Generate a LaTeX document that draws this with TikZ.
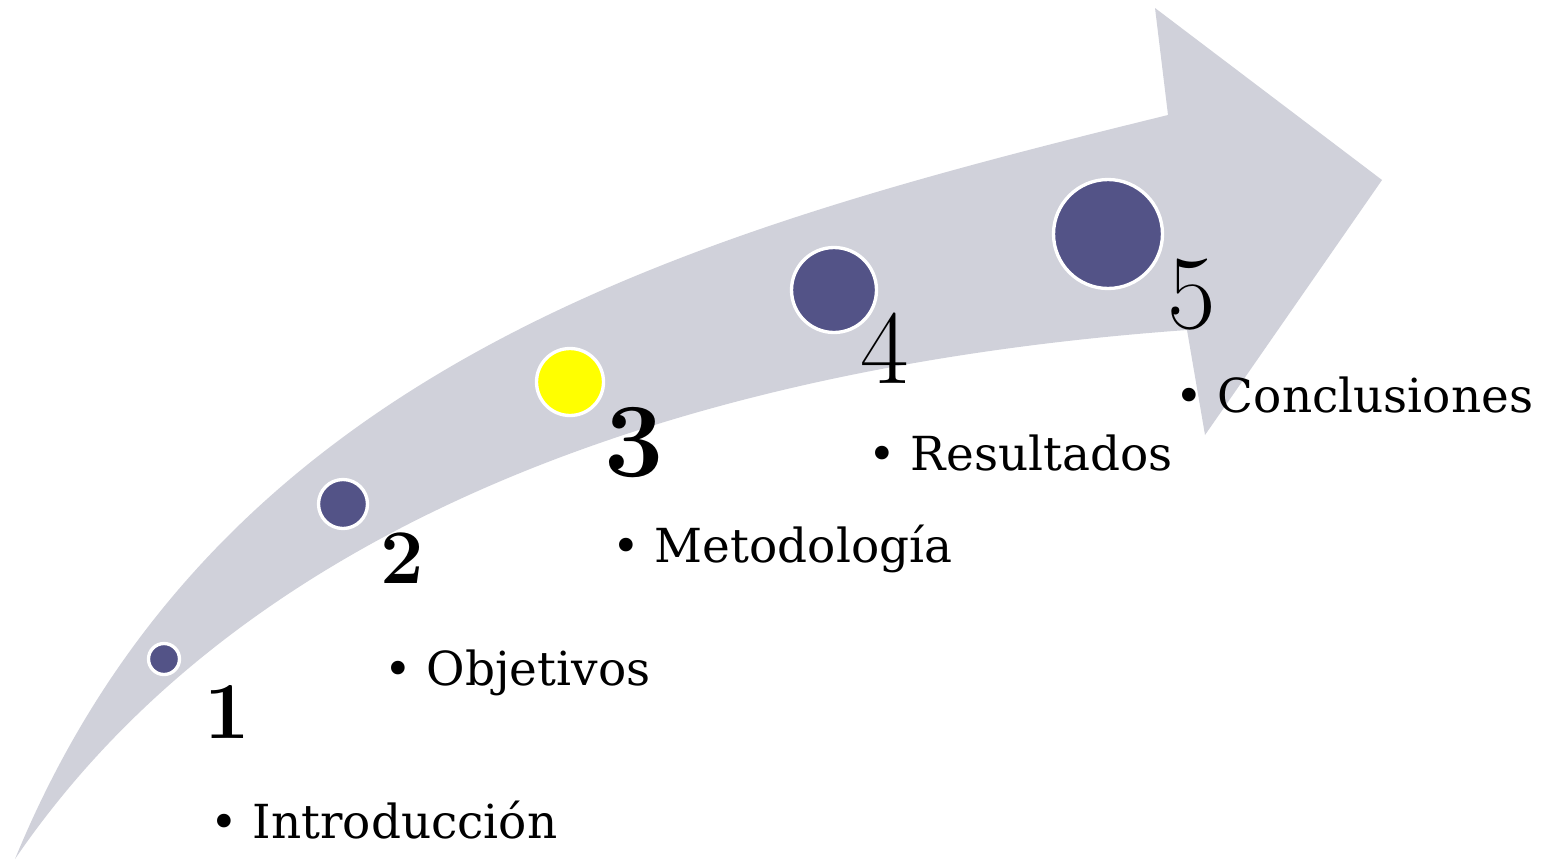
\documentclass[tikz,border=0pt]{standalone}
\usepackage{fontspec}
\newfontfamily\topicfont{DejaVu Serif}
\usetikzlibrary{positioning}
\definecolor{arrowgray}{HTML}{D0D1DA}
\definecolor{dotblue}{HTML}{535387}
\definecolor{dotyellow}{HTML}{FFFF00}

\begin{document}
\begin{tikzpicture}[x=0.02cm, y=-0.02cm]
  % Define styles
  \tikzstyle{dot} = [circle, draw=white, line width=1.9pt, fill=dotblue, inner sep=0pt]
  \tikzstyle{num} = [anchor=base west, inner sep=0pt]
  \tikzstyle{topic} = [anchor=base west, inner sep=0pt, font=\topicfont\fontsize{26.7}{32}\selectfont]

  \useasboundingbox (0,0) rectangle (1544,859);

  % Arrow
  \fill[arrowgray] (15,859) .. controls (220,360) and (700,230) .. (1168,115)
    -- (1155,8) -- (1382,180) -- (1205,435) -- (1187,330)
    .. controls (700,365) and (250,515) .. (15,859) -- cycle;

  % Dots
  \node[dot, minimum size=0.62cm] (d1) at (164,659) {};
  \node[dot, minimum size=0.98cm] (d2) at (343,504) {};
  \node[dot, minimum size=1.34cm, fill=dotyellow] (d3) at (570,382) {};
  \node[dot, minimum size=1.70cm] (d4) at (834,290) {};
  \node[dot, minimum size=2.18cm] (d5) at (1108,234) {};

  % Numbers
  \node[num, font=\bfseries\fontsize{46}{50}\selectfont] (n1) at (204,738) {1};
  \node[num, font=\bfseries\fontsize{44}{48}\selectfont] (n2) at (380,583) {2};
  \node[num, font=\bfseries\fontsize{60}{64}\selectfont] (n3) at (604,476) {3};
  \node[num, font=\fontsize{60}{64}\selectfont] (n4) at (860,383) {4};
  \node[num, font=\fontsize{60}{64}\selectfont] (n5) at (1167,328) {5};

  % Topics
  \node[topic] (t1) at (210,838) {\textbullet\ Introducción};
  \node[topic] (t2) at (384,685) {\textbullet\ Objetivos};
  \node[topic] (t3) at (612,562) {\textbullet\ Metodología};
  \node[topic] (t4) at (868,470) {\textbullet\ Resultados};
  \node[topic] (t5) at (1175,412) {\textbullet\ Conclusiones};
\end{tikzpicture}
\end{document}
